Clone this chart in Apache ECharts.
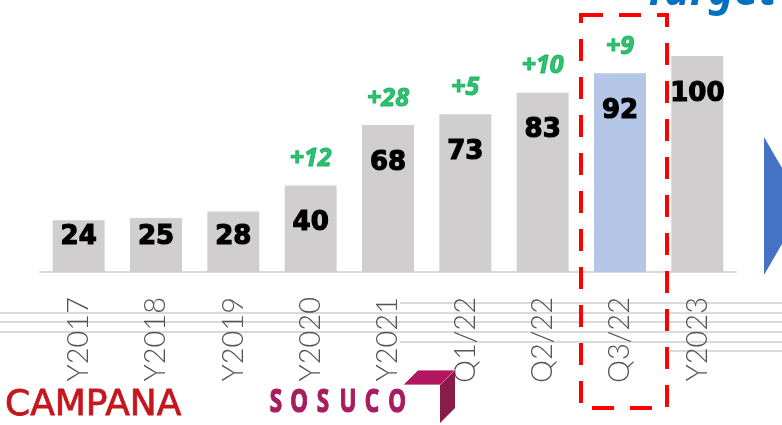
<!DOCTYPE html>
<html>
<head>
<meta charset="utf-8">
<script src="https://cdn.jsdelivr.net/npm/echarts@6/dist/echarts.min.js"></script>
<style>
html,body{margin:0;padding:0;background:#fff;}
#chart{width:782px;height:425px;}
</style>
</head>
<body>
<div id="chart"></div>
<script>
var categories = ['Y2017','Y2018','Y2019','Y2020','Y2021','Q1/22','Q2/22','Q3/22','Y2023'];
var values = [24, 25, 28, 40, 68, 73, 83, 92, 100];
var deltas = [null, null, null, 12, 28, 5, 10, 9, null];
var highlightIndex = 7;
var targetText = 'Target';

var yMax = 100;
var gridTop = 56, gridBottom = 153, gridLeft = 40, gridRight = 46;
var gridHeight = 425 - gridTop - gridBottom;

var chart = echarts.init(document.getElementById('chart'));

var barData = values.map(function (v, i) {
  var h = v / yMax * gridHeight;
  var off = Math.min(38, h - 35);
  return {
    value: v,
    itemStyle: { color: i === highlightIndex ? '#B4C7E7' : '#D0CECE' },
    label: { position: ['50%', off] }
  };
});

var deltaData = [];
deltas.forEach(function (d, i) {
  if (d !== null) deltaData.push({ value: [i, values[i]], delta: d });
});

function cube() {
  return [
    { type: 'polygon', shape: { points: [[403,385],[440,385],[455,370],[418,370]] }, style: { fill: '#B3165F', stroke: '#fff', lineWidth: 0.8 }, z: 10 },
    { type: 'polygon', shape: { points: [[440,385],[455,370],[455,408],[440,423]] }, style: { fill: '#8A1C4C' }, z: 10 }
  ];
}

var sosuco = 'SOSUCO'.split('');
var sosucoX = [276, 299, 323, 348, 372, 397];
var sosucoText = sosuco.map(function (ch, i) {
  return {
    type: 'text', x: sosucoX[i], y: 403, z: 11, scaleX: 0.7,
    style: { text: ch, fill: '#A81C5E', stroke: '#A81C5E', lineWidth: 1.2, font: 'bold 32px "Noto Sans", sans-serif', align: 'center', verticalAlign: 'middle' }
  };
});

var bgLines = [
  [0, 313, 782], [0, 322, 782], [0, 332, 782],
  [400, 303, 782], [400, 342, 782], [670, 351, 782]
].map(function (l) {
  return { type: 'line', shape: { x1: l[0], y1: l[1], x2: l[2], y2: l[1] }, style: { stroke: '#DADADA', lineWidth: 2 }, z: -10, silent: true };
});

chart.setOption({
  animation: false,
  grid: { left: gridLeft, right: gridRight, top: gridTop, bottom: gridBottom },
  xAxis: {
    type: 'category',
    data: categories,
    axisLine: { lineStyle: { color: '#D9D9D9', width: 2 } },
    axisTick: { show: false },
    axisLabel: { rotate: 90, margin: 25, color: '#555555', fontSize: 29, fontFamily: 'Lato', fontWeight: 300 }
  },
  yAxis: { type: 'value', min: 0, max: yMax, show: false, splitLine: { show: false } },
  series: [
    {
      type: 'bar',
      barWidth: 52,
      data: barData,
      label: {
        show: true,
        align: 'center',
        verticalAlign: 'middle',
        color: '#000',
        fontSize: 26,
        fontWeight: 'bold',
        fontFamily: 'DejaVu Sans',
        textBorderColor: '#000',
        textBorderWidth: 1.2
      }
    },
    {
      type: 'scatter',
      symbolSize: 0,
      data: deltaData,
      label: {
        show: true,
        position: 'top',
        distance: 14,
        color: '#00B050',
        fontSize: 25,
        fontWeight: 'bold',
        fontStyle: 'italic',
        fontFamily: 'Noto Sans',
        textBorderColor: '#00B050',
        textBorderWidth: 1,
        formatter: function (p) { return '+' + p.data.delta; }
      }
    }
  ],
  graphic: bgLines.concat([
    {
      type: 'rect', shape: { x: 581, y: 15, width: 86, height: 393 },
      style: { fill: 'none', stroke: '#FF0000', lineWidth: 4, lineDash: [22, 16] }, z: 20
    },
    {
      type: 'polygon', shape: { points: [[764,137],[804,206],[764,275]] },
      style: { fill: '#4472C4' }, z: 5
    },
    {
      type: 'text', x: 644, y: 14, z: 5,
      style: { text: targetText, fill: '#0070C0', font: 'italic bold 44px "Noto Sans", sans-serif', align: 'left', verticalAlign: 'bottom' }
    },
    {
      type: 'text', x: 5, y: 406, z: 5,
      style: { text: 'CAMPANA', fill: '#C4161C', stroke: '#C4161C', lineWidth: 0.8, font: '36px "DejaVu Sans", sans-serif', align: 'left', verticalAlign: 'middle' }
    }
  ]).concat(cube()).concat(sosucoText)
});
</script>
</body>
</html>
